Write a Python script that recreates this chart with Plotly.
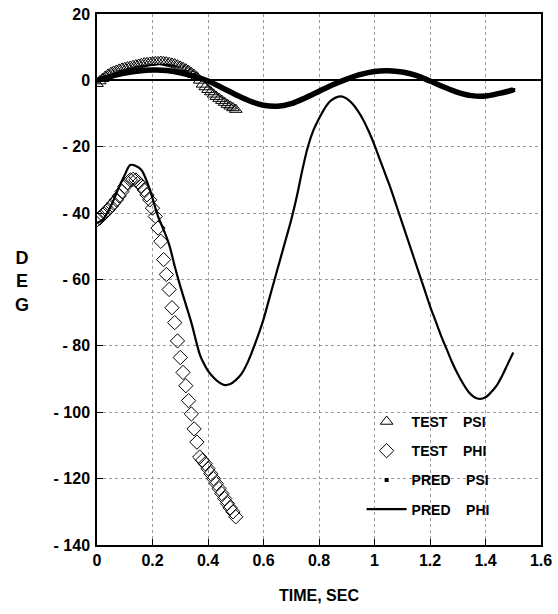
import plotly.graph_objects as go

# ---------------- data ----------------
pred_phi_t = [0.00, 0.02, 0.04, 0.06, 0.08, 0.10, 0.12, 0.14, 0.16, 0.18, 0.20, 0.22, 0.24, 0.26, 0.28,
              0.30, 0.32, 0.34, 0.36, 0.37, 0.38, 0.40, 0.42, 0.44, 0.46, 0.48, 0.50, 0.52, 0.54, 0.56,
              0.58, 0.60, 0.62, 0.64, 0.66, 0.68, 0.70, 0.72, 0.74, 0.76, 0.78, 0.80, 0.82, 0.84, 0.86,
              0.88, 0.90, 0.92, 0.94, 0.96, 0.98, 1.00, 1.02, 1.04, 1.06, 1.08, 1.10, 1.12, 1.14, 1.16,
              1.18, 1.20, 1.22, 1.24, 1.26, 1.28, 1.30, 1.32, 1.34, 1.36, 1.38, 1.40, 1.42, 1.44, 1.46,
              1.48, 1.50]
pred_phi = [-43, -42, -39.5, -36, -32, -28.5, -25.5, -25.8, -27, -30.5, -35.5, -41, -45, -49.5, -56,
            -62, -67.5, -73, -79.5, -82.5, -84.5, -87.5, -89.5, -91, -91.8, -91.5, -90.3, -88.5, -85.5, -81.5,
            -77, -72, -66, -60, -54, -48, -42, -35, -27, -20, -15, -11.5, -8.5, -6.3, -5.2,
            -4.8, -5.5, -7, -9.2, -12, -15.5, -19.5, -24, -28.5, -33, -38, -43, -48, -53, -58,
            -63, -68, -72.5, -77, -81, -85, -88.5, -91.5, -94, -95.5, -96, -95.5, -94, -92, -89,
            -85.5, -82]

pred_psi_t = [0.00, 0.05, 0.10, 0.15, 0.20, 0.25, 0.30, 0.35, 0.40, 0.45, 0.50, 0.55, 0.60, 0.65, 0.70,
              0.75, 0.80, 0.85, 0.90, 0.95, 1.00, 1.05, 1.10, 1.15, 1.20, 1.25, 1.30, 1.35, 1.40, 1.45, 1.50]
pred_psi = [0, 1.2, 2.2, 2.8, 3.1, 3.0, 2.3, 1.2, -0.2, -2.2, -4.3, -6.2, -7.5, -7.8, -7.0,
            -5.3, -3.3, -1.3, 0.4, 1.8, 2.7, 2.9, 2.5, 1.5, -0.2, -2.0, -3.6, -4.6, -4.7, -3.9, -2.9]

test_t = [0.00, 0.01, 0.02, 0.03, 0.04, 0.05, 0.06, 0.07, 0.08, 0.09, 0.10, 0.11, 0.12, 0.13, 0.14,
          0.15, 0.16, 0.17, 0.18, 0.19, 0.20, 0.21, 0.22, 0.23, 0.24, 0.25, 0.26, 0.27, 0.28, 0.29,
          0.30, 0.31, 0.32, 0.33, 0.34, 0.35, 0.36, 0.37, 0.38, 0.39, 0.40, 0.41, 0.42, 0.43, 0.44,
          0.45, 0.46, 0.47, 0.48, 0.49, 0.50]
test_psi = [-1, -0.2, 0.5, 1.2, 1.8, 2.3, 2.7, 3.0, 3.3, 3.6, 3.8, 4.0, 4.2, 4.4, 4.6,
            4.8, 5.0, 5.2, 5.3, 5.4, 5.5, 5.6, 5.6, 5.7, 5.6, 5.5, 5.3, 5.1, 4.9, 4.6,
            4.2, 3.8, 3.4, 2.9, 2.3, 1.7, 1.0, 0.0, -1.2, -2.0, -2.8, -3.5, -4.2, -4.9, -5.5,
            -6.1, -6.7, -7.3, -7.8, -8.3, -8.8]
test_phi = [-42, -41.5, -40.5, -39.8, -39, -38, -37, -36, -34.8, -33.5, -32, -30.8, -30, -29.8, -30,
            -30.8, -31.8, -33, -34.5, -36, -38.5, -41, -44.5, -48.5, -54, -58.5, -63, -68.5, -73, -78.5,
            -83.5, -88, -92, -96.5, -100.5, -105, -109, -113.5, -114.5, -115.5, -117, -118.5, -120, -121.5, -123,
            -124.5, -126, -127.5, -128.8, -130, -131.5]

x_ticks = [0, 0.2, 0.4, 0.6, 0.8, 1.0, 1.2, 1.4, 1.6]
x_ticklabels = ["0", "0.2", "0.4", "0.6", "0.8", "1", "1.2", "1.4", "1.6"]
y_ticks = [20, 0, -20, -40, -60, -80, -100, -120, -140]
y_ticklabels = ["20", "0", "- 20", "- 40", "- 60", "- 80", "- 100", "- 120", "- 140"]

names = ["TEST\u00a0\u00a0\u00a0\u00a0PSI", "TEST\u00a0\u00a0\u00a0\u00a0PHI",
         "PRED\u00a0\u00a0\u00a0\u00a0PSI", "PRED\u00a0\u00a0\u00a0\u00a0PHI"]

FONT = "Liberation Sans"

fig = go.Figure()

fig.add_trace(go.Scatter(x=pred_psi_t, y=pred_psi, mode="lines", showlegend=False,
                         line=dict(color="black", width=5.5, shape="spline"), hoverinfo="skip"))
fig.add_trace(go.Scatter(x=test_t, y=test_psi, mode="markers", name=names[0], legendgroup="a",
                         marker=dict(symbol="triangle-up-open", size=11, color="black",
                                     line=dict(width=1, color="black"))))
fig.add_trace(go.Scatter(x=test_t, y=test_phi, mode="markers", name=names[1], legendgroup="b",
                         marker=dict(symbol="diamond-open", size=11, color="black",
                                     line=dict(width=1, color="black"))))
fig.add_trace(go.Scatter(x=pred_psi_t, y=pred_psi, mode="markers", name=names[2], legendgroup="c",
                         marker=dict(symbol="square", size=4, color="black")))
fig.add_trace(go.Scatter(x=pred_phi_t, y=pred_phi, mode="lines", name=names[3], legendgroup="d",
                         line=dict(color="black", width=2.2, shape="spline")))

fig.update_layout(
    width=558, height=614,
    margin=dict(l=97, r=17, t=14, b=69),
    paper_bgcolor="white", plot_bgcolor="white",
    font=dict(family=FONT, color="black"),
    showlegend=True,
    legend=dict(x=0.596, y=0.262, xanchor="left", yanchor="top", itemwidth=40,
                bgcolor="rgba(0,0,0,0)", borderwidth=0, tracegroupgap=8,
                font=dict(family=FONT, size=14, color="black", weight="bold")),
    xaxis=dict(range=[0, 1.6], tickvals=x_ticks, ticktext=x_ticklabels,
               showline=True, linecolor="black", linewidth=1.5, mirror=True,
               ticks="inside", ticklen=6, tickcolor="black", tickwidth=1.2,
               showgrid=True, gridcolor="#9a9a9a", griddash="dot", gridwidth=1,
               zeroline=False, automargin=False,
               tickfont=dict(family=FONT, size=16, color="black", weight="bold"),
               title=dict(text="TIME, SEC", standoff=22,
                          font=dict(family=FONT, size=16, color="black", weight="bold"))),
    yaxis=dict(range=[-140, 20], tickvals=y_ticks, ticktext=y_ticklabels,
               showline=True, linecolor="black", linewidth=1.5, mirror=True,
               ticks="inside", ticklen=6, tickcolor="black", tickwidth=1.2,
               showgrid=True, gridcolor="#9a9a9a", griddash="dot", gridwidth=1,
               zeroline=True, zerolinecolor="black", zerolinewidth=1.5, automargin=False,
               ticklabelstandoff=2,
               tickfont=dict(family=FONT, size=16, color="black", weight="bold")),
)

fig.add_annotation(text="D<br>E<br>G", xref="paper", yref="paper", x=-0.168, y=0.497,
                   showarrow=False, xanchor="center", yanchor="middle", align="center",
                   font=dict(family=FONT, size=18, color="black", weight="bold"))

fig.write_html("out.html", config={"displayModeBar": False},
               post_script="document.body.style.margin='0';")
